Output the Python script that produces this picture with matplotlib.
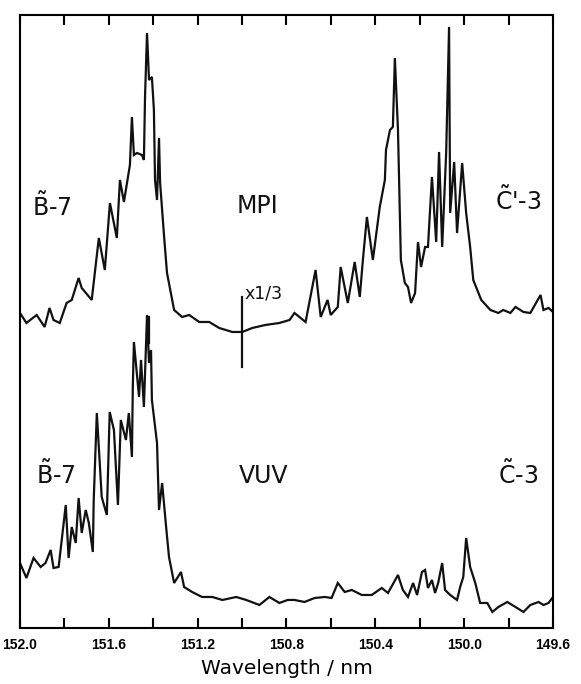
import matplotlib
matplotlib.use("Agg")
import matplotlib.pyplot as plt

# MPI spectrum (upper trace), wavelength in nm, intensity in arbitrary units
mpi_nm = [152.000, 151.971, 151.925, 151.889, 151.867, 151.849, 151.821, 151.790,
          151.767, 151.736, 151.722, 151.677, 151.645, 151.618, 151.595, 151.564,
          151.550, 151.532, 151.505, 151.496, 151.487, 151.473, 151.451, 151.442,
          151.437, 151.428, 151.419, 151.406, 151.397, 151.392, 151.383, 151.374,
          151.369, 151.351, 151.338, 151.306, 151.270, 151.238, 151.193, 151.148,
          151.103, 151.044, 150.999, 150.954, 150.895, 150.832, 150.786, 150.764,
          150.714, 150.669, 150.646, 150.615, 150.601, 150.569, 150.556, 150.524,
          150.493, 150.470, 150.456, 150.438, 150.411, 150.380, 150.357, 150.352,
          150.334, 150.321, 150.312, 150.298, 150.285, 150.267, 150.253, 150.239,
          150.221, 150.208, 150.194, 150.176, 150.163, 150.145, 150.126, 150.113,
          150.099, 150.081, 150.068, 150.063, 150.045, 150.032, 150.009, 149.991,
          149.973, 149.959, 149.923, 149.882, 149.846, 149.824, 149.792, 149.769,
          149.733, 149.702, 149.656, 149.643, 149.620, 149.600]
mpi_int = [315, 305, 313, 301, 320, 308, 305, 325,
           328, 350, 340, 328, 390, 358, 425, 390,
           448, 426, 463, 511, 473, 475, 473, 468,
           531, 595, 548, 551, 518, 448, 428, 490,
           445, 391, 355, 318, 311, 313, 306, 306,
           300, 296, 296, 300, 303, 305, 308, 315,
           306, 358, 311, 328, 313, 321, 361, 325,
           366, 331, 368, 411, 368, 421, 448, 478,
           498, 501, 570, 498, 368, 345, 341, 325,
           335, 386, 361, 381, 381, 451, 386, 476,
           381, 475, 601, 415, 466, 395, 465, 415,
           381, 348, 328, 318, 315, 318, 315, 321,
           316, 315, 333, 318, 320, 316]

# VUV spectrum (lower trace)
vuv_nm = [152.000, 151.971, 151.939, 151.907, 151.885, 151.862, 151.849, 151.826,
          151.794, 151.781, 151.767, 151.749, 151.736, 151.722, 151.704, 151.690,
          151.672, 151.668, 151.654, 151.632, 151.609, 151.596, 151.577, 151.559,
          151.546, 151.523, 151.510, 151.496, 151.492, 151.487, 151.464, 151.455,
          151.442, 151.428, 151.419, 151.410, 151.406, 151.383, 151.374, 151.360,
          151.342, 151.329, 151.306, 151.275, 151.261, 151.225, 151.180, 151.134,
          151.089, 151.026, 150.981, 150.922, 150.877, 150.832, 150.795, 150.764,
          150.719, 150.673, 150.628, 150.597, 150.569, 150.538, 150.506, 150.461,
          150.416, 150.371, 150.343, 150.298, 150.276, 150.253, 150.230, 150.212,
          150.190, 150.176, 150.163, 150.145, 150.131, 150.117, 150.099, 150.086,
          150.063, 150.032, 150.018, 150.004, 149.991, 149.973, 149.950, 149.928,
          149.896, 149.873, 149.846, 149.806, 149.769, 149.733, 149.702, 149.665,
          149.643, 149.620, 149.600]
vuv_int = [65, 50, 70, 61, 65, 78, 60, 61,
           123, 70, 101, 85, 130, 95, 118, 105,
           76, 128, 215, 131, 113, 216, 198, 123,
           208, 188, 215, 171, 241, 286, 231, 268,
           221, 313, 265, 278, 228, 185, 118, 145,
           101, 71, 45, 56, 41, 36, 31, 31,
           28, 31, 28, 23, 31, 25, 28, 28,
           26, 30, 31, 30, 45, 36, 38, 33,
           33, 40, 35, 53, 38, 31, 45, 33,
           56, 58, 40, 48, 35, 45, 65, 38,
           33, 28, 41, 51, 90, 61, 45, 25,
           25, 16, 21, 26, 21, 16, 23, 26,
           23, 25, 31]

tick_pos = [152.0, 151.8, 151.6, 151.4, 151.2, 151.0, 150.8, 150.6, 150.4, 150.2, 150.0, 149.8, 149.6]
tick_labels = ["152.0", "", "151.6", "", "151.2", "", "150.8", "", "150.4", "", "150.0", "", "149.6"]

# scale marker (x1/3) and short marker below the B-7 MPI peak
scale_nm = 151.0
scale_range = [261, 331]
mark_nm = 151.419
mark_range = [285, 311]

fig = plt.figure(figsize=(5.81, 6.84), dpi=100)
ax = fig.add_axes([0.0344, 0.0819, 0.9174, 0.8962])

ax.plot(mpi_nm, mpi_int, color="#111111", lw=1.6, solid_joinstyle="miter")
ax.plot(vuv_nm, vuv_int, color="#111111", lw=1.6, solid_joinstyle="miter")
ax.plot([scale_nm, scale_nm], scale_range, color="#111111", lw=1.6)
ax.plot([mark_nm, mark_nm], mark_range, color="#111111", lw=1.6)

ax.set_xlim(152.0, 149.6)
ax.set_ylim(0, 613)
ax.set_xticks(tick_pos)
ax.set_xticklabels(tick_labels, fontsize=10, family="Liberation Sans", fontweight="bold")
ax.set_yticks([])
ax.tick_params(axis="x", direction="in", top=True, length=7, width=1.5, pad=7)
for s in ax.spines.values():
    s.set_linewidth(1.5)
ax.set_xlabel("Wavelength / nm", fontsize=14.5, labelpad=5)

txt = dict(fontsize=17, ha="center", va="center", color="#111111")
ax.text(151.855, 421, r"$\tilde{\mathrm{B}}$-7", **txt)
ax.text(151.840, 153, r"$\tilde{\mathrm{B}}$-7", **txt)
ax.text(150.929, 422, "MPI", **txt)
ax.text(150.902, 152, "VUV", **txt)
ax.text(149.754, 427, r"$\tilde{\mathrm{C}}$'-3", **txt)
ax.text(149.758, 153, r"$\tilde{\mathrm{C}}$-3", **txt)
ax.text(150.988, 334, "x1/3", fontsize=12.5, ha="left", va="center", color="#111111")

fig.savefig("out.png", dpi=100)
